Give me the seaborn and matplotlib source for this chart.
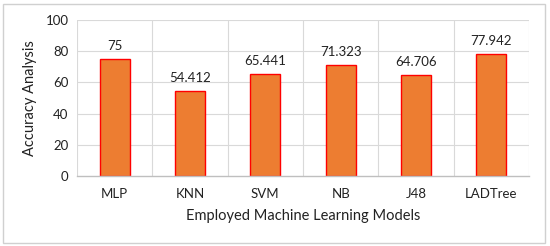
import matplotlib
matplotlib.use("Agg")
import matplotlib.pyplot as plt
import seaborn as sns
import pandas as pd
from matplotlib.patches import Rectangle

models = ["MLP", "KNN", "SVM", "NB", "J48", "LADTree"]
accuracy = [75, 54.412, 65.441, 71.323, 64.706, 77.942]
labels = ["75", "54.412", "65.441", "71.323", "64.706", "77.942"]
yticks = [0, 20, 40, 60, 80, 100]

sns.set_theme(style="white")
plt.rcParams["font.family"] = ["Lato", "DejaVu Sans"]

df = pd.DataFrame({"model": models, "acc": accuracy})

fig = plt.figure(figsize=(5.5, 2.46), dpi=100)
ax = fig.add_axes([77/550, 1-176/246, (529-77)/550, (176-20)/246])

sns.barplot(data=df, x="model", y="acc", color="#ED7D31", width=0.4,
            edgecolor="#FF0000", linewidth=1.0, saturation=1, ax=ax)

ax.set_ylim(0, 100)
ax.set_xlim(-0.5, len(models) - 0.5)
ax.set_yticks(yticks)
ax.set_yticklabels([str(t) for t in yticks])
for y in yticks[1:]:
    ax.axhline(y, color="#D9D9D9", lw=0.8, zorder=0)
for x in range(len(models) + 1):
    ax.axvline(x - 0.5, color="#D9D9D9", lw=0.8, zorder=0)
for s in ["top", "right", "left"]:
    ax.spines[s].set_visible(False)
ax.spines["bottom"].set_color("#BFBFBF")
ax.spines["bottom"].set_linewidth(1.0)

ax.tick_params(axis="both", length=0, labelsize=9.5, colors="#222222", pad=6)
ax.tick_params(axis="x", pad=9)
ax.set_xlabel("Employed Machine Learning Models", fontsize=10.5, color="#222222", labelpad=6)
ax.set_ylabel("Accuracy Analysis", fontsize=10.5, color="#222222", labelpad=6)

for i, (v, t) in enumerate(zip(accuracy, labels)):
    ax.annotate(t, (i, v), xytext=(0, 5), textcoords="offset points",
                ha="center", va="bottom", fontsize=9.5, color="#222222")

fig.patches.append(Rectangle((3/550, 3/246), 542/550, 239/246, transform=fig.transFigure,
                             fill=False, edgecolor="#D0D0D0", lw=1.0))

fig.savefig("out.png", dpi=100)
